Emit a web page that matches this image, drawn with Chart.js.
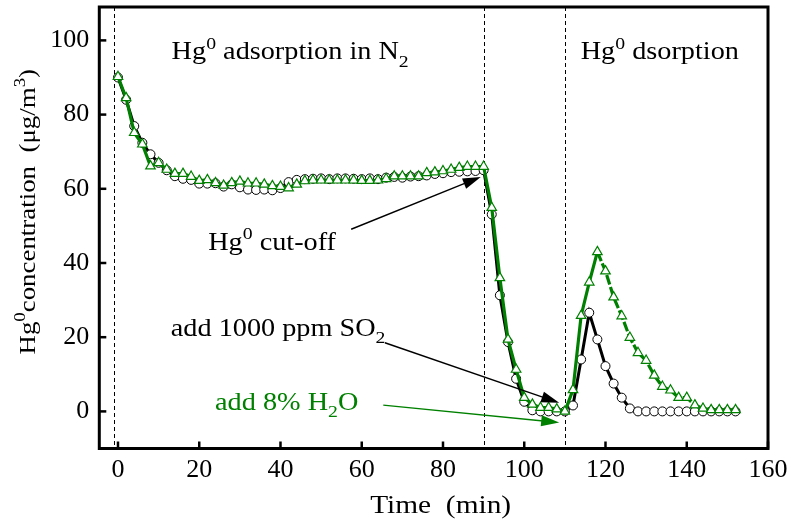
<!DOCTYPE html>
<html>
<head>
<meta charset="utf-8">
<script src="https://cdn.jsdelivr.net/npm/chart.js@4.4.1/dist/chart.umd.min.js"></script>
<style>
  html, body { margin: 0; padding: 0; background: #fff; }
  canvas { display: block; }
</style>
</head>
<body>
<canvas id="chart" width="791" height="526"></canvas>
<script>
// Sampling times (min)
const timeMin = [
  0, 2, 4, 6, 8, 10, 12, 14, 16, 18,
  20, 22, 24, 26, 28, 30, 32, 34, 36, 38,
  40, 42, 44, 46, 48, 50, 52, 54, 56, 58,
  60, 62, 64, 66, 68, 70, 72, 74, 76, 78,
  80, 82, 84, 86, 88, 90, 92, 94, 96, 98,
  100, 102, 104, 106, 108, 110, 112, 114, 116, 118,
  120, 122, 124, 126, 128, 130, 132, 134, 136, 138,
  140, 142, 144, 146, 148, 150, 152
];

// Outlet Hg0 concentration (ug/m3), 1000 ppm SO2 added
const so2Conc = [
  90.0, 84.0, 76.9, 72.4, 69.3, 67.0, 65.0, 63.4, 62.7, 62.4,
  61.4, 61.4, 61.5, 60.6, 61.2, 60.4, 59.8, 59.7, 59.8, 59.6,
  60.2, 61.8, 62.4, 62.6, 62.7, 62.8, 62.6, 62.8, 62.8, 62.7,
  62.6, 62.8, 62.6, 63.0, 63.2, 63.0, 63.3, 63.4, 63.6, 64.0,
  64.2, 64.5, 64.6, 64.7, 64.8, 65.0, 53.1, 31.3, 18.7, 8.8,
  2.6, 0.3, 0.0, 0.0, 0.0, 0.0, 1.6, 14.0, 26.6, 19.4,
  12.2, 7.5, 3.7, 0.8, 0.0, 0.0, 0.0, 0.0, 0.0, 0.0,
  0.0, 0.0, 0.0, 0.0, 0.0, 0.0, 0.0
];

// Outlet Hg0 concentration (ug/m3), 8% H2O added
const h2oConc = [
  90.2, 84.5, 75.1, 72.0, 66.1, 67.0, 65.2, 64.1, 64.1, 63.3,
  62.2, 62.4, 61.6, 60.9, 61.6, 62.0, 61.5, 61.5, 61.2, 60.8,
  60.6, 60.2, 61.2, 62.1, 62.3, 62.3, 62.3, 62.3, 62.3, 62.3,
  62.2, 62.2, 62.3, 62.7, 63.4, 63.4, 63.4, 63.4, 64.3, 64.5,
  64.8, 65.2, 65.7, 66.0, 66.0, 66.0, 54.9, 36.0, 19.4, 11.3,
  3.7, 1.9, 1.0, 1.0, 0.6, 0.0, 5.8, 25.8, 34.8, 43.0,
  37.8, 30.8, 25.7, 19.9, 15.8, 13.7, 9.7, 6.7, 5.7, 3.7,
  3.7, 1.7, 0.8, 0.4, 0.4, 0.4, 0.4
];

const xTicks = [0, 20, 40, 60, 80, 100, 120, 140, 160];
const yTicks = [0, 20, 40, 60, 80, 100];

// Stage boundaries (min): start, Hg0 cut-off, desorption start
const stageTimes = [-1, 90, 110];

const GREEN = '#008000';
const SERIF = '"Liberation Serif", "Times New Roman", Times, serif';

// Text labels placed in data coordinates; parts: [text, 'sup' | 'sub' | undefined]
const notes = [
  { x: 13.2, y: 94.9, color: '#000', parts: [['Hg'], ['0', 'sup'], [' adsorption in N'], ['2', 'sub']] },
  { x: 113.9, y: 94.9, color: '#000', parts: [['Hg'], ['0', 'sup'], [' dsorption']] },
  { x: 22.2, y: 43.5, color: '#000', parts: [['Hg'], ['0', 'sup'], [' cut-off']] },
  { x: 13.0, y: 20.4, color: '#000', parts: [['add 1000 ppm SO'], ['2', 'sub']] },
  { x: 23.9, y: 0.4, color: GREEN, parts: [['add 8% H'], ['2', 'sub'], ['O']] }
];

const arrows = [
  { from: [57.4, 49.1], to: [89.3, 63.2], color: '#000' },
  { from: [65.7, 18.5], to: [108.6, 2.3], color: '#000' },
  { from: [65.3, 1.7], to: [108.6, -3.0], color: GREEN }
];

function drawRich(ctx, parts, size, sx, align) {
  ctx.save();
  ctx.scale(sx, 1);
  ctx.textBaseline = 'alphabetic';
  ctx.textAlign = 'left';
  let total = 0;
  for (const [t, kind] of parts) {
    ctx.font = `${kind ? size * 0.7 : size}px ${SERIF}`;
    total += ctx.measureText(t).width;
  }
  let x = align === 'center' ? -total / 2 : 0;
  for (const [t, kind] of parts) {
    ctx.font = `${kind ? size * 0.7 : size}px ${SERIF}`;
    const dy = kind === 'sup' ? -0.43 * size : kind === 'sub' ? 0.3 * size : 0;
    ctx.fillText(t, x, dy);
    x += ctx.measureText(t).width;
  }
  ctx.restore();
}

function drawArrow(ctx, x0, y0, x1, y1, color) {
  const ang = Math.atan2(y1 - y0, x1 - x0);
  const len = 18, half = 5.5;
  const bx = x1 - Math.cos(ang) * len, by = y1 - Math.sin(ang) * len;
  ctx.save();
  ctx.strokeStyle = color;
  ctx.fillStyle = color;
  ctx.lineWidth = 1.4;
  ctx.beginPath();
  ctx.moveTo(x0, y0);
  ctx.lineTo(bx + Math.cos(ang) * 2, by + Math.sin(ang) * 2);
  ctx.stroke();
  ctx.beginPath();
  ctx.moveTo(x1, y1);
  ctx.lineTo(bx - Math.sin(ang) * half, by + Math.cos(ang) * half);
  ctx.lineTo(bx + Math.sin(ang) * half, by - Math.cos(ang) * half);
  ctx.closePath();
  ctx.fill();
  ctx.restore();
}

const decor = {
  id: 'decor',
  beforeDatasetsDraw(chart) {
    const { ctx, chartArea: a, scales: { x } } = chart;
    ctx.save();
    ctx.strokeStyle = '#000';
    ctx.lineWidth = 1;
    ctx.setLineDash([4, 3]);
    for (const t of stageTimes) {
      const px = Math.round(x.getPixelForValue(t)) + 0.5;
      ctx.beginPath();
      ctx.moveTo(px, a.top);
      ctx.lineTo(px, a.bottom);
      ctx.stroke();
    }
    ctx.restore();
  },
  afterDraw(chart) {
    const { ctx, chartArea: a, scales: { x, y } } = chart;
    ctx.save();
    // frame
    ctx.strokeStyle = '#000';
    ctx.lineWidth = 3;
    ctx.strokeRect(a.left, a.top, a.right - a.left, a.bottom - a.top);
    // inward tick marks
    ctx.lineWidth = 2.5;
    for (const v of yTicks) {
      const py = y.getPixelForValue(v);
      ctx.beginPath(); ctx.moveTo(a.left, py); ctx.lineTo(a.left + 7, py); ctx.stroke();
    }
    for (const v of xTicks) {
      const px = x.getPixelForValue(v);
      ctx.beginPath(); ctx.moveTo(px, a.bottom); ctx.lineTo(px, a.bottom - 7); ctx.stroke();
    }
    // arrows
    for (const ar of arrows) {
      drawArrow(ctx,
        x.getPixelForValue(ar.from[0]), y.getPixelForValue(ar.from[1]),
        x.getPixelForValue(ar.to[0]), y.getPixelForValue(ar.to[1]), ar.color);
    }
    // labels
    for (const n of notes) {
      ctx.save();
      ctx.fillStyle = n.color;
      ctx.translate(x.getPixelForValue(n.x), y.getPixelForValue(n.y));
      drawRich(ctx, n.parts, 25, 1.13, 'left');
      ctx.restore();
    }
    // axis titles
    ctx.fillStyle = '#000';
    ctx.save();
    ctx.translate((a.left + a.right) / 2 + 7, 513);
    drawRich(ctx, [['Time  (min)']], 26, 1.13, 'center');
    ctx.restore();
    ctx.save();
    ctx.translate(35, (a.top + a.bottom) / 2 - 16);
    ctx.rotate(-Math.PI / 2);
    drawRich(ctx, [['Hg'], ['0', 'sup'], ['concentration  (\u03bcg/m'], ['3', 'sup'], [')']], 24, 1.12, 'center');
    ctx.restore();
    ctx.restore();
  }
};

new Chart(document.getElementById('chart'), {
  type: 'line',
  data: {
    datasets: [
      {
        label: '8% H2O',
        data: timeMin.map((t, i) => ({ x: t, y: h2oConc[i] })),
        borderColor: GREEN,
        borderWidth: 3.2,
        pointStyle: 'triangle',
        pointRadius: 5.5,
        pointBorderWidth: 1.2,
        pointBorderColor: GREEN,
        pointBackgroundColor: '#fff',
        tension: 0,
        segment: {
          borderDash: c => (c.p0.parsed.x >= 118 && c.p0.parsed.x < 146) ? [10, 2.5] : undefined
        }
      },
      {
        label: '1000 ppm SO2',
        data: timeMin.map((t, i) => ({ x: t, y: so2Conc[i] })),
        borderColor: '#000',
        borderWidth: 3,
        pointStyle: 'circle',
        pointRadius: 4.5,
        pointBorderWidth: 1,
        pointBorderColor: '#000',
        pointBackgroundColor: '#fff',
        tension: 0
      }
    ]
  },
  options: {
    responsive: false,
    animation: false,
    devicePixelRatio: 1,
    layout: { padding: { top: 7, right: 23, left: 0, bottom: 0 } },
    plugins: { legend: { display: false }, tooltip: { enabled: false } },
    scales: {
      x: {
        type: 'linear',
        min: -4.6,
        max: 160,
        afterBuildTicks: s => { s.ticks = xTicks.map(v => ({ value: v })); },
        afterFit: s => { s.height = 77.5; s.paddingLeft = 0; s.paddingRight = 0; },
        grid: { display: false, drawTicks: false },
        border: { display: false },
        ticks: { color: '#000', font: { family: SERIF, size: 26 }, padding: 6, maxRotation: 0, autoSkip: false }
      },
      y: {
        type: 'linear',
        min: -10,
        max: 109,
        afterBuildTicks: s => { s.ticks = yTicks.map(v => ({ value: v })); },
        afterFit: s => { s.width = 99.3; s.paddingTop = 0; s.paddingBottom = 0; },
        grid: { display: false, drawTicks: false },
        border: { display: false },
        ticks: { color: '#000', font: { family: SERIF, size: 26 }, padding: 10 }
      }
    }
  },
  plugins: [decor]
});
</script>
</body>
</html>
